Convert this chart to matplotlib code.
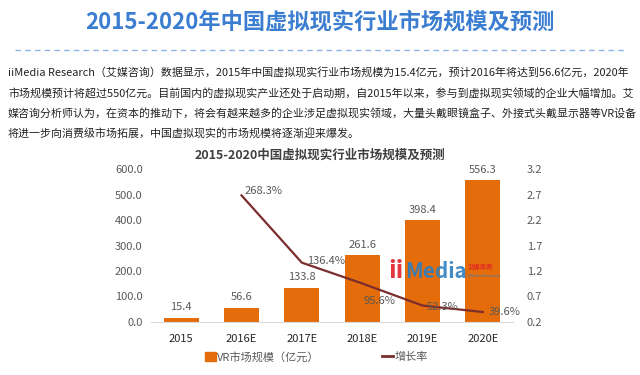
import matplotlib.pyplot as plt
from matplotlib.lines import Line2D
from matplotlib.patches import Patch

plt.rcParams['font.family'] = ['Noto Sans CJK SC', 'DejaVu Sans']

years = ['2015', '2016E', '2017E', '2018E', '2019E', '2020E']
market = [15.4, 56.6, 133.8, 261.6, 398.4, 556.3]
growth_years = ['2016E', '2017E', '2018E', '2019E', '2020E']
growth = [2.683, 1.364, 0.956, 0.523, 0.396]
growth_labels = ['268.3%', '136.4%', '95.6%', '52.3%', '39.6%']

title = '2015-2020年中国虚拟现实行业市场规模及预测'
paragraph = [
    'iiMedia Research（艾媒咨询）数据显示，2015年中国虚拟现实行业市场规模为15.4亿元，预计2016年将达到56.6亿元，2020年',
    '市场规模预计将超过550亿元。目前国内的虚拟现实产业还处于启动期，自2015年以来，参与到虚拟现实领域的企业大幅增加。艾',
    '媒咨询分析师认为，在资本的推动下，将会有越来越多的企业涉足虚拟现实领域，大量头戴眼镜盒子、外接式头戴显示器等VR设备',
    '将进一步向消费级市场拓展，中国虚拟现实的市场规模将逐渐迎来爆发。',
]

bar_color = '#e46c0a'
line_color = '#7b2d2d'
grey = '#595959'

fig = plt.figure(figsize=(6.4, 3.75), dpi=100)

# page header
fig.text(0.5, 1 - 22 / 375, title, ha='center', va='center', fontsize=16,
         fontweight='bold', color='#3b7dd0')
fig.add_artist(Line2D([15 / 640, 625 / 640], [1 - 50 / 375] * 2, color='#8fb4e3',
                      lw=1, ls=(0, (4, 3))))

# paragraph: shrink font so the first line spans the page width
texts = []
for i, line in enumerate(paragraph):
    texts.append(fig.text(8 / 640, 1 - (72 + i * 20.8) / 375, line, ha='left',
                          va='center', fontsize=8.3, color='#222222'))
r = fig.canvas.get_renderer()
w = texts[0].get_window_extent(r).width
size = 8.3 * 618 / w
for t in texts:
    t.set_fontsize(size)

ax = fig.add_axes([151 / 640, 1 - 322 / 375, 362 / 640, 153 / 375])
x = list(range(len(years)))
ax.bar(x, market, width=0.58, color=bar_color, zorder=2)
for xi, v in zip(x, market):
    ax.text(xi, v + 22, f'{v:.1f}', ha='center', va='bottom', fontsize=8, color=grey)
ax.set_ylim(0, 600)
ax.set_yticks(range(0, 601, 100))
ax.set_yticklabels([f'{v:.1f}' for v in range(0, 601, 100)])
ax.set_xlim(-0.5, len(years) - 0.5)
ax.set_xticks(x)
ax.set_xticklabels(years)
for s in ['top', 'right', 'left']:
    ax.spines[s].set_visible(False)
ax.spines['bottom'].set_color('#d9d9d9')
ax.tick_params(length=0, labelsize=8, colors=grey, pad=6)
ax.tick_params(axis='x', colors='#262626', pad=9)

ax2 = ax.twinx()
gx = [years.index(g) for g in growth_years]
ax2.plot(gx, growth, color=line_color, lw=1.6, zorder=3)
ax2.set_ylim(0.2, 3.2)
ax2.set_yticks([0.2, 0.7, 1.2, 1.7, 2.2, 2.7, 3.2])
ax2.set_yticklabels(['0.2', '0.7', '1.2', '1.7', '2.2', '2.7', '3.2'])
for s in ax2.spines.values():
    s.set_visible(False)
ax2.tick_params(length=0, labelsize=8, colors=grey, pad=10)
offsets = [(2, 3), (4, 1), (1, -13), (3, -1), (4, 0)]
for xi, v, lab, off in zip(gx, growth, growth_labels, offsets):
    ax2.annotate(lab, (xi, v), xytext=off, textcoords='offset points',
                 ha='left', va='center', fontsize=8, color=grey)

# iiMedia watermark
fig.text(388 / 640, 1 - 271 / 375, 'ii', fontsize=18, fontweight='bold',
         color='#e0202a', ha='left', va='center', alpha=0.9)
fig.text(405 / 640, 1 - 271 / 375, 'Media', fontsize=15, fontweight='bold',
         color='#2c7fc0', ha='left', va='center', alpha=0.9)
fig.text(468 / 640, 1 - 267 / 375, '艾媒咨询', fontsize=4.5, fontweight='bold',
         color='#e0202a', ha='left', va='center', alpha=0.9)
fig.text(468 / 640, 1 - 276 / 375, 'iiMedia Research', fontsize=3,
         color='#2c7fc0', ha='left', va='center', alpha=0.9)

fig.text(0.5, 1 - 155 / 375, '2015-2020中国虚拟现实行业市场规模及预测', ha='center',
         va='center', fontsize=9, fontweight='bold', color='#404040')

handles = [Patch(color=bar_color), Line2D([], [], color=line_color, lw=2)]
fig.legend(handles, ['VR市场规模（亿元）', '增长率'], loc='center',
           bbox_to_anchor=(0.494, 1 - 357 / 375), ncol=2, frameon=False,
           fontsize=8, handlelength=1.0, handleheight=0.8, columnspacing=5.6,
           handletextpad=0.1, labelcolor=grey)

fig.savefig('out.png', dpi=100)
